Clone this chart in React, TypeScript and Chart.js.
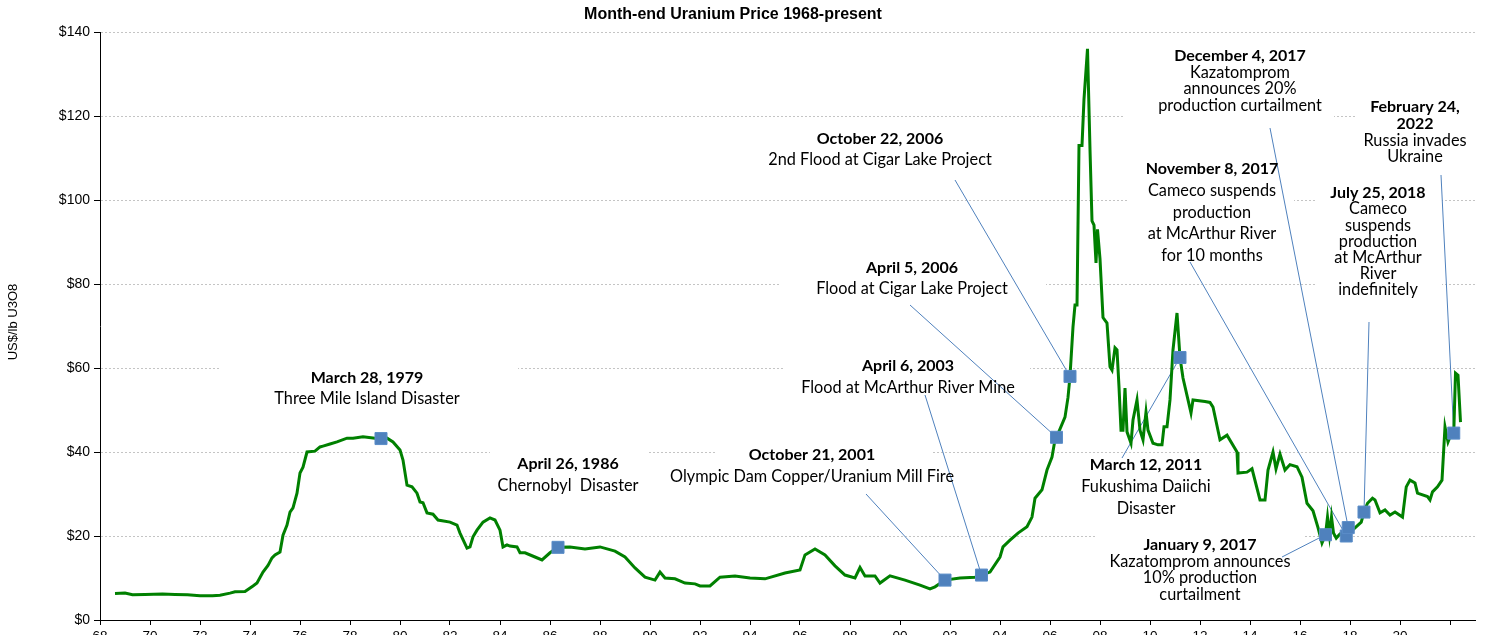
import React, { useEffect, useRef } from 'react';
import { Chart, registerables } from 'chart.js';

Chart.register(...registerables);

// ---- Data ----
const priceYears = [
  1968.6, 1969.0, 1969.3, 1969.8, 1970.5, 1971.0, 1971.5, 1972.0, 1972.5, 1972.8,
  1973.2, 1973.4, 1973.8, 1974.12, 1974.28, 1974.52, 1974.72, 1974.88, 1975.0, 1975.2,
  1975.32, 1975.48, 1975.6, 1975.72, 1975.88, 1976.0, 1976.12, 1976.28, 1976.6, 1976.8,
  1976.92, 1977.2, 1977.48, 1977.88, 1978.12, 1978.52, 1979.0, 1979.24, 1979.48, 1979.72,
  1980.0, 1980.12, 1980.28, 1980.48, 1980.68, 1980.8, 1980.92, 1981.08, 1981.32, 1981.52,
  1982.0, 1982.28, 1982.4, 1982.68, 1982.8, 1982.92, 1983.08, 1983.32, 1983.6, 1983.8,
  1984.0, 1984.12, 1984.28, 1984.4, 1984.68, 1984.8, 1985.0, 1985.4, 1985.68, 1986.0,
  1986.32, 1986.8, 1987.4, 1988.0, 1988.6, 1989.0, 1989.4, 1989.8, 1990.2, 1990.4,
  1990.6, 1991.0, 1991.4, 1991.8, 1992.0, 1992.4, 1992.8, 1993.4, 1994.0, 1994.6,
  1995.4, 1996.0, 1996.2, 1996.6, 1997.0, 1997.4, 1997.8, 1998.2, 1998.4, 1998.6,
  1999.0, 1999.2, 1999.6, 2000.2, 2000.8, 2001.2, 2001.4, 2001.8, 2002.4, 2003.0,
  2003.26, 2003.6, 2004.0, 2004.12, 2004.4, 2004.72, 2005.08, 2005.28, 2005.4, 2005.68,
  2005.88, 2006.08, 2006.2, 2006.26, 2006.6, 2006.72, 2006.8, 2006.92, 2007.0, 2007.08,
  2007.16, 2007.28, 2007.36, 2007.5, 2007.6, 2007.68, 2007.76, 2007.84, 2007.9, 2008.0,
  2008.12, 2008.28, 2008.4, 2008.48, 2008.6, 2008.68, 2008.76, 2008.84, 2008.92, 2009.0,
  2009.08, 2009.24, 2009.32, 2009.48, 2009.6, 2009.72, 2009.84, 2009.92, 2010.12, 2010.32,
  2010.48, 2010.56, 2010.68, 2010.8, 2010.92, 2011.08, 2011.2, 2011.32, 2011.64, 2011.72,
  2012.2, 2012.4, 2012.52, 2012.8, 2013.08, 2013.48, 2013.52, 2013.88, 2014.08, 2014.4,
  2014.6, 2014.72, 2014.92, 2015.04, 2015.2, 2015.4, 2015.6, 2015.88, 2016.08, 2016.28,
  2016.52, 2016.72, 2016.88, 2017.02, 2017.1, 2017.18, 2017.26, 2017.34, 2017.45, 2017.6,
  2017.85, 2017.93, 2018.1, 2018.45, 2018.56, 2018.7, 2018.9, 2019.0, 2019.2, 2019.4,
  2019.6, 2019.8, 2020.1, 2020.25, 2020.4, 2020.6, 2020.7, 2021.1, 2021.2, 2021.3,
  2021.5, 2021.68, 2021.8, 2021.92, 2022.0, 2022.15, 2022.22, 2022.32, 2022.42,
];

const priceValues = [
  6.3, 6.4, 6.0, 6.1, 6.2, 6.1, 6.0, 5.8, 5.8, 5.9,
  6.4, 6.7, 6.8, 8.1, 8.8, 11.4, 13.0, 14.8, 15.5, 16.2,
  20.2, 22.6, 25.7, 26.7, 30.2, 35.0, 36.4, 40.0, 40.2, 41.2,
  41.4, 41.9, 42.4, 43.3, 43.3, 43.6, 43.3, 43.2, 43.3, 42.4,
  40.5, 38.1, 32.1, 31.7, 30.2, 28.1, 27.9, 25.5, 25.2, 23.8,
  23.3, 22.6, 20.7, 17.1, 17.4, 19.8, 21.4, 23.3, 24.3, 23.8,
  21.4, 17.4, 17.9, 17.6, 17.4, 16.0, 16.0, 15.0, 14.3, 16.0,
  17.3, 17.4, 16.9, 17.4, 16.4, 15.0, 12.4, 10.2, 9.5, 11.4,
  10.0, 9.8, 8.8, 8.6, 8.1, 8.1, 10.2, 10.5, 10.0, 9.8,
  11.2, 11.9, 15.5, 16.9, 15.5, 12.9, 10.7, 10.0, 12.5, 10.5,
  10.5, 8.8, 10.5, 9.5, 8.3, 7.4, 7.9, 9.5, 10.0, 10.2,
  10.7, 11.4, 15.0, 17.4, 19.0, 20.7, 22.2, 24.5, 29.0, 31.0,
  35.7, 38.8, 42.9, 43.5, 48.3, 53.0, 58.0, 69.8, 75.0, 75.0,
  113.0, 113.0, 124.0, 136.0, 112.0, 95.0, 94.0, 85.0, 93.0, 86.0,
  72.0, 70.7, 60.3, 59.5, 64.8, 64.3, 55.5, 45.2, 45.2, 55.2,
  44.8, 42.1, 47.6, 52.4, 45.2, 42.9, 49.5, 45.2, 42.1, 41.7,
  41.7, 46.0, 46.0, 52.4, 64.3, 73.1, 62.5, 57.6, 49.3, 52.4,
  52.0, 51.8, 50.7, 42.9, 44.0, 40.0, 35.0, 35.2, 36.0, 28.6,
  28.6, 35.7, 40.0, 36.0, 39.5, 35.7, 37.0, 36.5, 34.0, 27.8,
  26.0, 22.0, 18.3, 20.3, 24.5, 20.2, 24.5, 20.7, 19.5, 20.5,
  20.0, 22.0, 21.4, 23.3, 25.7, 27.8, 29.0, 28.6, 25.5, 26.2,
  25.0, 25.7, 24.5, 31.7, 33.3, 32.6, 30.2, 29.4, 28.6, 30.5,
  31.7, 33.3, 46.0, 42.4, 43.6, 44.5, 58.8, 58.3, 47.1,
];

const eventYears = [1979.24, 1986.32, 2001.8, 2003.26, 2006.26, 2006.8, 2011.2, 2017.02, 2017.85, 2017.93, 2018.56, 2022.15];
const eventPrices = [43.2, 17.3, 9.5, 10.7, 43.5, 58.0, 62.5, 20.3, 20.0, 22.0, 25.7, 44.5];

const eventTitles = [
  ['March 28, 1979'],
  ['April 26, 1986'],
  ['October 21, 2001'],
  ['April 6, 2003'],
  ['April 5, 2006'],
  ['October 22, 2006'],
  ['March 12, 2011'],
  ['January 9, 2017'],
  ['November 8, 2017'],
  ['December 4, 2017'],
  ['July 25, 2018'],
  ['February 24,', '2022'],
];
const eventNotes = [
  ['Three Mile Island Disaster'],
  ['Chernobyl  Disaster'],
  ['Olympic Dam Copper/Uranium Mill Fire'],
  ['Flood at McArthur River Mine'],
  ['Flood at Cigar Lake Project'],
  ['2nd Flood at Cigar Lake Project'],
  ['Fukushima Daiichi', 'Disaster'],
  ['Kazatomprom announces', '10% production', 'curtailment'],
  ['Cameco suspends', 'production', 'at McArthur River', 'for 10 months'],
  ['Kazatomprom', 'announces 20%', 'production curtailment'],
  ['Cameco', 'suspends', 'production', 'at McArthur', 'River', 'indefinitely'],
  ['Russia invades', 'Ukraine'],
];

const yTickValues = [0, 20, 40, 60, 80, 100, 120, 140];

// ---- Layout of the annotation text boxes (pixels) ----
type Layout = { cx: number; y: number; lh: number; box: number[] | null; from: number[] | null };
const annotationLayout: Layout[] = [
  { cx: 367, y: 378, lh: 20.5, box: [220, 362, 518, 410], from: null },
  { cx: 568, y: 464, lh: 22, box: [490, 440, 647, 500], from: null },
  { cx: 812, y: 455, lh: 22, box: [717, 440, 932, 468], from: [866, 494] },
  { cx: 908, y: 366, lh: 22, box: [784, 350, 1030, 398], from: [925, 395] },
  { cx: 912, y: 268, lh: 21, box: [779, 254, 1046, 300], from: [910, 305] },
  { cx: 880, y: 139, lh: 21, box: null, from: [955, 180] },
  { cx: 1146, y: 465, lh: 22, box: null, from: [1122, 458] },
  { cx: 1200, y: 545, lh: 16.5, box: [1097, 530, 1303, 605], from: [1282, 557] },
  { cx: 1212, y: 169, lh: 21.7, box: [1128, 155, 1294, 266], from: [1190, 262] },
  { cx: 1240, y: 56, lh: 16.5, box: [1124, 44, 1334, 125], from: [1270, 128] },
  { cx: 1378, y: 193, lh: 16.2, box: [1315, 180, 1442, 300], from: [1369, 322] },
  { cx: 1415, y: 107, lh: 16.7, box: [1357, 95, 1494, 166], from: [1441, 175] },
];

const ANNOT_FONT = 'Lato, "Open Sans", sans-serif';
const AXIS_FONT = '"Liberation Sans", Arial, sans-serif';

const annotationPlugin = {
  id: 'eventAnnotations',
  beforeDatasetsDraw(chart: any) {
    const ctx = chart.ctx as CanvasRenderingContext2D;
    const xs = chart.scales.x;
    const ys = chart.scales.y;
    ctx.save();
    ctx.fillStyle = '#ffffff';
    annotationLayout.forEach((l) => {
      if (l.box) ctx.fillRect(l.box[0], l.box[1], l.box[2] - l.box[0], l.box[3] - l.box[1]);
    });
    ctx.strokeStyle = '#4F81BD';
    ctx.lineWidth = 1;
    annotationLayout.forEach((l, i) => {
      if (!l.from) return;
      const px = xs.getPixelForValue(eventYears[i]);
      const py = ys.getPixelForValue(eventPrices[i]);
      ctx.beginPath();
      ctx.moveTo(l.from[0], l.from[1]);
      ctx.lineTo(px, py);
      ctx.stroke();
    });
    ctx.textAlign = 'center';
    ctx.textBaseline = 'middle';
    ctx.fillStyle = '#000000';
    annotationLayout.forEach((l, i) => {
      let y = l.y;
      eventTitles[i].forEach((t) => {
        ctx.font = `bold 16px ${ANNOT_FONT}`;
        ctx.fillText(t, l.cx, y);
        y += l.lh;
      });
      eventNotes[i].forEach((t) => {
        ctx.font = `16.3px ${ANNOT_FONT}`;
        ctx.fillText(t, l.cx, y);
        y += l.lh;
      });
    });
    ctx.restore();
  },
  afterDraw(chart: any) {
    const ctx = chart.ctx as CanvasRenderingContext2D;
    ctx.save();
    ctx.fillStyle = '#000000';
    ctx.textAlign = 'center';
    ctx.textBaseline = 'middle';
    ctx.font = `bold 16px ${AXIS_FONT}`;
    ctx.fillText('Month-end Uranium Price 1968-present', 733, 15);
    ctx.translate(13, 322);
    ctx.rotate(-Math.PI / 2);
    ctx.font = `13px ${AXIS_FONT}`;
    ctx.fillText('US$/lb U3O8', 0, 0);
    ctx.restore();
  },
};

export default function App() {
  const canvasRef = useRef<HTMLCanvasElement | null>(null);

  useEffect(() => {
    if (!canvasRef.current) return;
    const lineData = priceYears.map((x, i) => ({ x, y: priceValues[i] }));
    const eventData = eventYears.map((x, i) => ({ x, y: eventPrices[i] }));
    const chart = new Chart(canvasRef.current, {
      type: 'line',
      data: {
        datasets: [
          {
            type: 'scatter',
            label: 'Events',
            data: eventData,
            pointStyle: 'rect',
            pointRadius: 8.5,
            backgroundColor: '#4F81BD',
            borderColor: '#5B8DC8',
            borderWidth: 1,
            showLine: false,
            order: 0,
          } as any,
          {
            type: 'line',
            label: 'Uranium price',
            data: lineData,
            borderColor: '#008000',
            borderWidth: 3,
            pointRadius: 0,
            tension: 0,
            fill: false,
            order: 1,
          },
        ],
      },
      options: {
        animation: false,
        responsive: true,
        maintainAspectRatio: false,
        events: [],
        layout: { padding: { top: 32, right: 19, left: 0, bottom: 0 } },
        plugins: {
          legend: { display: false },
          tooltip: { enabled: false },
          title: { display: false },
        },
        scales: {
          x: {
            type: 'linear',
            min: 1968,
            max: 2023,
            afterFit: (s: any) => {
              s.height = 40;
            },
            ticks: {
              stepSize: 2,
              includeBounds: false,
              autoSkip: false,
              maxRotation: 0,
              padding: 3,
              color: '#000',
              font: { family: AXIS_FONT, size: 13.5 },
              callback: (v: any) => {
                const n = Math.round(Number(v));
                if (n >= 2022) return '';
                return String(n % 100).padStart(2, '0');
              },
            },
            grid: {
              drawOnChartArea: false,
              drawTicks: true,
              tickLength: 5,
              tickColor: '#000',
              color: '#000',
            },
            border: { display: true, color: '#000', width: 1 },
          },
          y: {
            type: 'linear',
            min: 0,
            max: 140,
            afterFit: (s: any) => {
              s.width = 100;
            },
            afterBuildTicks: (s: any) => {
              s.ticks = yTickValues.map((v) => ({ value: v }));
            },
            ticks: {
              padding: 4,
              color: '#000',
              font: { family: AXIS_FONT, size: 14 },
              callback: (v: any) => '$' + v,
            },
            grid: {
              drawOnChartArea: true,
              drawTicks: true,
              tickLength: 6,
              tickColor: '#000',
              color: '#c4c4c4',
              lineWidth: 1,
            },
            border: { display: true, color: '#000', width: 1, dash: [2, 2] },
          },
        },
      },
      plugins: [annotationPlugin],
    });
    return () => chart.destroy();
  }, []);

  return (
    <div
      style={{
        position: 'fixed',
        left: 0,
        top: 0,
        width: 1494,
        height: 635,
        overflow: 'hidden',
        background: '#fff',
      }}
    >
      <div style={{ position: 'absolute', left: 0, top: 0, width: 1494, height: 660 }}>
        <canvas ref={canvasRef} />
      </div>
    </div>
  );
}
